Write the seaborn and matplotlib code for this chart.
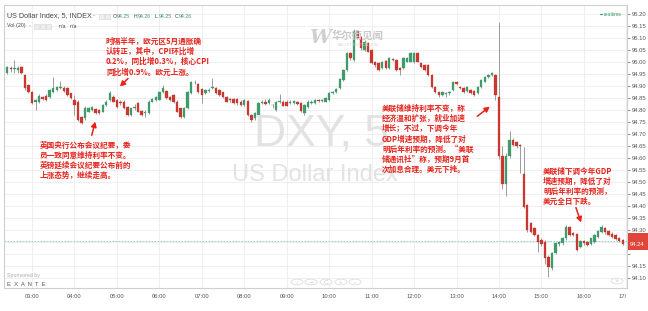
import matplotlib
matplotlib.use("Agg")
import numpy as np
import pandas as pd
import matplotlib.pyplot as plt
import seaborn as sns
from matplotlib.patches import FancyArrowPatch, Circle, Rectangle

# ---------------- data ----------------
start_time = "2015-06-17 02:25"
anchor_time = "2015-06-17 03:00"
hour_labels = ["03:00", "04:00", "05:00", "06:00", "07:00", "08:00", "09:00",
               "10:00", "11:00", "12:00", "13:00", "14:00", "15:00", "16:00", "17/"]
price_ticks = [94.10, 94.15, 94.20, 94.25, 94.30, 94.35, 94.40, 94.45, 94.50,
               94.55, 94.60, 94.65, 94.70, 94.75, 94.80, 94.85, 94.90, 94.95,
               95.00, 95.05, 95.10, 95.15, 95.20]
hidden_ticks = [94.20, 94.25]   # covered by the last-price marker in the reference

opens = [94.955, 94.975, 94.970, 94.965, 94.980, 94.945, 94.905, 94.876, 94.832, 94.835,
         94.856, 94.860, 94.856, 94.876, 94.883, 94.890, 94.893, 94.890, 94.869, 94.842,
         94.835, 94.772, 94.765, 94.793, 94.800, 94.804, 94.800, 94.793, 94.821, 94.842,
         94.856, 94.842, 94.835, 94.835, 94.814, 94.779, 94.807, 94.828, 94.795, 94.786,
         94.786, 94.835, 94.842, 94.842, 94.876, 94.879, 94.856, 94.862, 94.835, 94.807,
         94.772, 94.807, 94.869, 94.915, 94.908, 94.887, 94.869, 94.880, 94.890, 94.893,
         94.883, 94.873, 94.856, 94.846, 94.844, 94.844, 94.835, 94.821, 94.838, 94.779,
         94.765, 94.779, 94.828, 94.835, 94.828, 94.822, 94.800, 94.832, 94.835, 94.835,
         94.830, 94.828, 94.835, 94.828,
         94.786, 94.814, 94.828, 94.828, 94.842, 94.836, 94.835, 94.842, 94.870, 94.876,
         94.890, 94.925, 94.967, 95.036, 95.008, 95.130, 95.105, 95.050, 95.078, 95.050,
         95.001, 94.994, 94.974, 95.004, 94.976, 95.010, 95.008, 94.974, 94.974, 95.001,
         95.001, 95.001, 95.036, 94.994, 94.987, 94.987, 94.946, 94.897, 94.876, 94.862,
         94.866, 94.869, 94.883, 94.915, 94.897, 94.890, 94.879, 94.883, 94.879, 94.869,
         94.897, 94.918, 94.939, 94.946, 94.946,
         94.855, 94.610, 94.490, 94.610, 94.675, 94.665, 94.655, 94.535, 94.404, 94.328,
         94.307, 94.279, 94.258, 94.251, 94.189, 94.140, 94.203, 94.240, 94.244, 94.265,
         94.314, 94.286, 94.282, 94.231, 94.254, 94.251, 94.240, 94.251, 94.272, 94.293,
         94.310, 94.295, 94.285, 94.279, 94.268, 94.258]
highs = [94.985, 94.985, 95.008, 94.985, 94.985, 94.950, 94.910, 94.880, 94.845, 94.865,
         94.860, 94.865, 94.888, 94.939, 94.900, 94.921, 94.898, 94.895, 94.872, 94.862,
         94.840, 94.775, 94.815, 94.812, 94.818, 94.810, 94.805, 94.825, 94.840, 94.879,
         94.862, 94.846, 94.840, 94.840, 94.818, 94.810, 94.825, 94.832, 94.800, 94.798,
         94.840, 94.850, 94.860, 94.878, 94.904, 94.883, 94.860, 94.866, 94.840, 94.810,
         94.812, 94.878, 94.920, 94.925, 94.912, 94.890, 94.887, 94.890, 94.935, 94.897,
         94.887, 94.876, 94.860, 94.850, 94.848, 94.848, 94.840, 94.846, 94.842, 94.782,
         94.790, 94.832, 94.840, 94.845, 94.850, 94.826, 94.836, 94.865, 94.840, 94.840,
         94.840, 94.842, 94.838, 94.832,
         94.825, 94.840, 94.840, 94.846, 94.846, 94.846, 94.855, 94.873, 94.880, 94.892,
         94.933, 94.972, 95.040, 95.040, 95.138, 95.135, 95.108, 95.090, 95.082, 95.055,
         95.005, 94.998, 95.005, 95.008, 95.022, 95.015, 95.012, 94.978, 95.020, 95.022,
         95.040, 95.040, 95.042, 94.998, 94.990, 94.990, 94.950, 94.900, 94.880, 94.878,
         94.876, 94.880, 94.922, 94.921, 94.900, 94.894, 94.900, 94.887, 94.883, 94.900,
         94.930, 94.943, 94.952, 94.958, 94.950,
         95.168, 94.650, 94.620, 94.712, 94.682, 94.672, 94.660, 94.645, 94.410, 94.332,
         94.312, 94.285, 94.265, 94.258, 94.195, 94.208, 94.250, 94.255, 94.270, 94.321,
         94.318, 94.290, 94.286, 94.258, 94.258, 94.255, 94.268, 94.283, 94.300, 94.321,
         94.314, 94.300, 94.290, 94.283, 94.272, 94.262]
lows = [94.950, 94.960, 94.955, 94.955, 94.950, 94.885, 94.870, 94.825, 94.800, 94.830,
        94.843, 94.838, 94.852, 94.872, 94.880, 94.887, 94.875, 94.858, 94.845, 94.779,
        94.755, 94.740, 94.760, 94.790, 94.795, 94.782, 94.782, 94.790, 94.818, 94.838,
        94.832, 94.810, 94.820, 94.803, 94.775, 94.775, 94.800, 94.790, 94.775, 94.772,
        94.783, 94.832, 94.838, 94.840, 94.872, 94.845, 94.838, 94.830, 94.790, 94.768,
        94.768, 94.803, 94.865, 94.910, 94.872, 94.828, 94.865, 94.876, 94.887, 94.865,
        94.858, 94.852, 94.832, 94.835, 94.824, 94.822, 94.815, 94.815, 94.775, 94.752,
        94.760, 94.775, 94.825, 94.820, 94.824, 94.807, 94.797, 94.828, 94.815, 94.815,
        94.826, 94.824, 94.820, 94.790,
        94.779, 94.810, 94.825, 94.825, 94.832, 94.832, 94.832, 94.838, 94.866, 94.872,
        94.886, 94.920, 94.962, 95.010, 95.004, 95.094, 95.052, 95.046, 95.040, 94.990,
        94.980, 94.962, 94.970, 94.972, 94.972, 95.004, 94.962, 94.946, 94.970, 94.998,
        94.998, 94.996, 94.998, 94.976, 94.962, 94.940, 94.892, 94.870, 94.855, 94.858,
        94.855, 94.862, 94.880, 94.905, 94.886, 94.872, 94.875, 94.865, 94.858, 94.865,
        94.893, 94.915, 94.935, 94.940, 94.842,
        94.595, 94.470, 94.440, 94.600, 94.650, 94.640, 94.537, 94.390, 94.290, 94.288,
        94.275, 94.210, 94.232, 94.160, 94.105, 94.135, 94.198, 94.232, 94.238, 94.260,
        94.275, 94.274, 94.212, 94.226, 94.238, 94.232, 94.236, 94.247, 94.268, 94.289,
        94.285, 94.275, 94.268, 94.258, 94.250, 94.236]
closes = [94.980, 94.970, 94.975, 94.975, 94.955, 94.890, 94.875, 94.828, 94.842, 94.860,
          94.847, 94.842, 94.883, 94.893, 94.897, 94.897, 94.879, 94.862, 94.849, 94.821,
          94.758, 94.744, 94.810, 94.807, 94.814, 94.786, 94.786, 94.821, 94.835, 94.869,
          94.835, 94.814, 94.828, 94.807, 94.779, 94.807, 94.812, 94.793, 94.779, 94.793,
          94.835, 94.846, 94.856, 94.873, 94.890, 94.849, 94.842, 94.835, 94.793, 94.772,
          94.807, 94.873, 94.915, 94.918, 94.876, 94.862, 94.883, 94.885, 94.897, 94.869,
          94.862, 94.856, 94.835, 94.840, 94.828, 94.828, 94.821, 94.842, 94.779, 94.758,
          94.786, 94.828, 94.835, 94.825, 94.842, 94.820, 94.832, 94.836, 94.818, 94.818,
          94.835, 94.838, 94.824, 94.796,
          94.821, 94.835, 94.835, 94.842, 94.836, 94.842, 94.851, 94.869, 94.875, 94.887,
          94.929, 94.967, 95.036, 95.015, 95.130, 95.099, 95.057, 95.085, 95.043, 94.994,
          94.987, 94.967, 95.001, 94.976, 95.018, 95.008, 94.967, 94.967, 95.015, 95.018,
          95.036, 95.036, 95.001, 94.980, 94.967, 94.946, 94.897, 94.876, 94.862, 94.873,
          94.872, 94.876, 94.918, 94.910, 94.890, 94.876, 94.897, 94.869, 94.862, 94.897,
          94.925, 94.939, 94.946, 94.953, 94.862,
          94.610, 94.490, 94.610, 94.675, 94.655, 94.648, 94.648, 94.397, 94.300, 94.293,
          94.279, 94.250, 94.240, 94.182, 94.147, 94.203, 94.244, 94.251, 94.265, 94.314,
          94.279, 94.279, 94.217, 94.254, 94.244, 94.237, 94.265, 94.279, 94.296, 94.314,
          94.290, 94.280, 94.272, 94.262, 94.255, 94.240]

ref_line_price = 94.254
last_price_label = "94.24"
countdown_label = "03:55"

# ---------------- figure ----------------
W, H = 648, 311
sns.set_theme(style="white")
plt.rcParams["font.family"] = ["Liberation Sans", "DejaVu Sans"]
fig = plt.figure(figsize=(W / 100, H / 100), dpi=100)
fig.patch.set_facecolor("white")

def fx(x):
    return x / W

def fy(y):
    return 1 - y / H

ax_left, ax_right, ax_top, ax_bottom = 4, 627, 5, 288
ax = fig.add_axes([fx(ax_left), fy(ax_bottom), (ax_right - ax_left) / W, (ax_bottom - ax_top) / H])
ax.set_facecolor("white")

df = pd.DataFrame({
    "time": pd.date_range(start_time, periods=len(opens), freq="5min"),
    "open": opens, "high": highs, "low": lows, "close": closes,
})
df["pos"] = (df["time"] - pd.Timestamp(anchor_time)) / pd.Timedelta("5min")
df["up"] = df["close"] >= df["open"]

UP, DOWN, WICK = "#3f9b6b", "#c8382e", "#9b9b9b"

ax.vlines(df["pos"], df["low"], df["high"], colors=WICK, linewidth=0.7, zorder=3)
body_h = np.maximum((df["close"] - df["open"]).abs(), 0.0025)
body_b = np.minimum(df["open"], df["close"])
ax.bar(df["pos"], body_h, bottom=body_b, width=0.68,
       color=np.where(df["up"], UP, DOWN), edgecolor=np.where(df["up"], UP, DOWN),
       linewidth=0.2, zorder=4)

ax.axhline(ref_line_price, color="#86c9ae", linestyle=(0, (2, 1.6)), linewidth=0.6, zorder=2)

px_per_bar = 42.45 / 12
ax.set_xlim((ax_left - 32) / px_per_bar, (ax_right - 32) / px_per_bar)
ax.set_ylim(95.20 - (ax_bottom - 14) / 240, 95.20 + (14 - ax_top) / 240)

ax.set_xticks(np.arange(len(hour_labels)) * 12)
ax.set_xticklabels(hour_labels)
ax.set_yticks(price_ticks)
ax.set_yticklabels(["" if any(abs(v - h) < 1e-6 for h in hidden_ticks) else f"{v:.2f}"
                    for v in price_ticks])
ax.yaxis.tick_right()
ax.tick_params(axis="y", labelsize=4.2, colors="#555555", length=2, width=0.5, pad=1.5,
               right=True, left=False)
ax.tick_params(axis="x", labelsize=4.2, colors="#555555", length=0, pad=4.5)
for lbl in ax.get_xticklabels():
    if lbl.get_text() == "17/":
        lbl.set_horizontalalignment("right")
ax.grid(True, color="#ececec", linewidth=0.6)
ax.set_axisbelow(True)
for side, sp in ax.spines.items():
    sp.set_color("#cfcfcf")
    sp.set_linewidth(0.8)

# ---------------- watermarks ----------------
fig.text(fx(322), fy(134), "DXY, 5", fontsize=32, color="#e2e2e2", ha="center", va="center",
         family=["Liberation Sans", "DejaVu Sans"], zorder=0)
fig.text(fx(315), fy(175), "US Dollar Index", fontsize=17, color="#e2e2e2", ha="center",
         va="center", family=["Liberation Sans", "DejaVu Sans"], zorder=0)
fig.text(fx(320), fy(38), "W", fontsize=14, color="#cfcfcf", ha="center", va="center",
         family=["DejaVu Serif"], style="italic", weight="bold", zorder=0)
fig.text(fx(358), fy(35), "华尔街见闻", fontsize=7.5, color="#c9c9c9", ha="center", va="center",
         family=["Noto Sans CJK SC", "DejaVu Sans"], weight="bold", zorder=0)
fig.text(fx(358), fy(45), "WALLSTREETCN.COM", fontsize=2.8, color="#d8d8d8", ha="center",
         va="center", zorder=0)

# ---------------- header ----------------
fig.text(fx(7), fy(16), "US Dollar Index, 5, INDEX", fontsize=5.2, color="#4a4a4a", va="center")
fig.text(fx(93), fy(16), "-", fontsize=4.5, color="#777777", va="center")
for x0 in (99, 105):
    fig.patches.append(Rectangle((fx(x0), fy(19)), 5 / W, 5 / H, transform=fig.transFigure,
                                 facecolor="#eeeeee", edgecolor="#d5d5d5", linewidth=0.4))
ohlc = [("O", "94.25", 113), ("H", "94.26", 134), ("L", "94.25", 155), ("C", "94.26", 175)]
for k, v, x0 in ohlc:
    fig.text(fx(x0), fy(16), k, fontsize=3.8, color="#4a4a4a", va="center")
    fig.text(fx(x0 + 4), fy(16), v, fontsize=3.8, color="#3f9b6b", va="center")
fig.text(fx(7), fy(26), "Vol (20)", fontsize=3.8, color="#4a4a4a", va="center")
fig.text(fx(29), fy(26), "-", fontsize=3.8, color="#777777", va="center")
for x0 in (34, 40, 46):
    fig.patches.append(Rectangle((fx(x0), fy(28.5)), 5 / W, 5 / H, transform=fig.transFigure,
                                 facecolor="#eeeeee", edgecolor="#d5d5d5", linewidth=0.4))
fig.text(fx(59), fy(26), "n/a", fontsize=3.8, color="#4a4a4a", va="center")
fig.text(fx(70), fy(26), "n/a", fontsize=3.8, color="#4a4a4a", va="center")
fig.patches.append(Circle((fx(601.5), fy(14.5)), 1.5 / W, transform=fig.transFigure,
                          facecolor="#2e9a6a", edgecolor="none"))
fig.text(fx(604), fy(14.5), "realtime", fontsize=3.6, color="#3f9b6b", va="center")

# ---------------- footer ----------------
fig.text(fx(7), fy(276), "Sponsored by", fontsize=3.8, color="#aaaaaa", va="center")
fig.text(fx(7), fy(285), "E  X  A  N  T  E", fontsize=4.2, color="#555555", va="center")
for x0, sym in zip((297, 311, 326, 341, 355), ("‹", "−", "C", "+", "›")):
    fig.patches.append(Circle((fx(x0), fy(282)), 6 / W, transform=fig.transFigure,
                              facecolor="white", edgecolor="#dddddd", linewidth=0.6))
    fig.text(fx(x0), fy(282), sym, fontsize=4.5, color="#c8c8c8", ha="center", va="center")
fig.patches.append(Circle((fx(617), fy(281)), 6 / W, transform=fig.transFigure,
                          facecolor="white", edgecolor="#dddddd", linewidth=0.6))
fig.text(fx(617), fy(281), "»", fontsize=5, color="#c8c8c8", ha="center", va="center")

# last price marker
fig.patches.append(Rectangle((fx(628), fy(249.5)), 20 / W, 17 / H, transform=fig.transFigure,
                             facecolor="#e0453b", edgecolor="none"))
fig.text(fx(630), fy(245), last_price_label, fontsize=4.2, color="white", va="center")
fig.text(fx(630), fy(253.5), countdown_label, fontsize=4.2, color="white", va="center")

# ---------------- annotations ----------------
RED = "#e5231b"
cjk = ["Noto Sans CJK SC", "DejaVu Sans"]
notes = [
    (106, 37, "时隔半年，欧元区5月通胀确\n认转正，其中，CPI环比增\n0.2%，同比增0.3%，核心CPI\n同比增0.9%。欧元上涨。"),
    (40, 141, "英国央行公布会议纪要，委\n员一致同意维持利率不变。\n英镑延续会议纪要公布前的\n上涨态势，继续走高。"),
    (382, 104, "美联储维持利率不变，称\n经济温和扩张，就业加速\n增长；不过，下调今年\nGDP增速预期，降低了对\n明后年利率的预测。“美联\n储通讯社”称，预期9月首\n次加息合理。美元下挫。"),
    (543, 167, "美联储下调今年GDP\n增速预期，降低了对\n明后年利率的预测，\n美元全日下跌。"),
]
for x0, y0, s in notes:
    fig.text(fx(x0), fy(y0), s, fontsize=5.5, color=RED, va="top", ha="left",
             family=cjk, weight="bold", linespacing=1.16, zorder=10)

arrows = [((130, 76.5), (118, 88.5)), ((91, 138), (96, 119)),
          ((475, 118), (492, 105)), ((575, 205), (582, 225))]
for (x1, y1), (x2, y2) in arrows:
    fig.patches.append(FancyArrowPatch((fx(x1), fy(y1)), (fx(x2), fy(y2)),
                                       transform=fig.transFigure, arrowstyle="-|>,head_length=3,head_width=1.6",
                                       color=RED, linewidth=1.1, zorder=10))

fig.savefig("out.png", dpi=100, facecolor="white")
